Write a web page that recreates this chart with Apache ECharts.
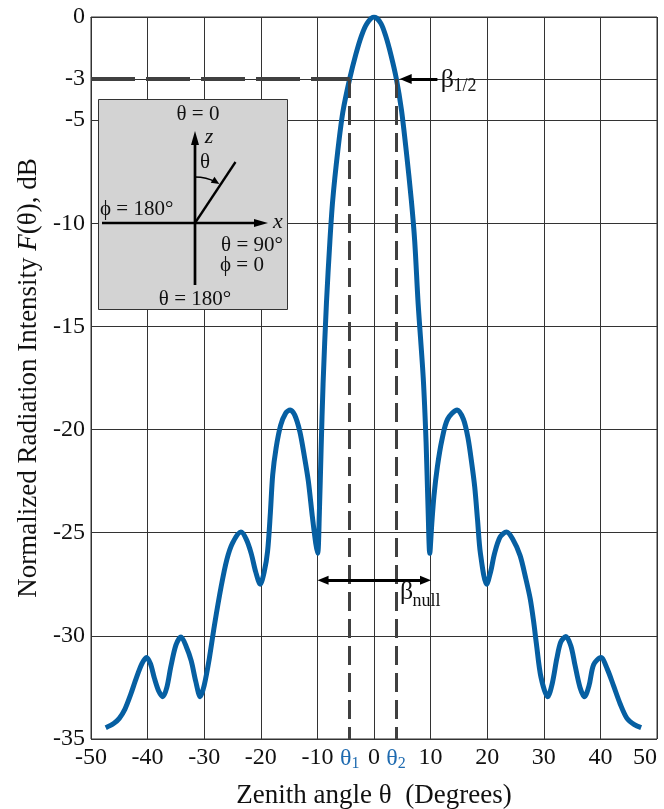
<!DOCTYPE html>
<html>
<head>
<meta charset="utf-8">
<script src="https://cdn.jsdelivr.net/npm/echarts@6/dist/echarts.min.js"></script>
<style>
html, body { margin: 0; padding: 0; background: #fff; }
#chart { width: 664px; height: 809px; }
</style>
</head>
<body>
<div id="chart"></div>
<script>
// zenith angle (deg) and normalized radiation intensity (dB)
const thetaDeg = [
  -47.4, -46.0, -45.0, -44.0, -43.0, -42.0, -41.0, -40.2, -39.5, -38.8,
  -38.0, -37.3, -36.6, -35.9, -35.0, -34.1, -33.2, -32.3, -31.5, -30.7,
  -30.0, -29.1, -28.2, -27.0, -26.0, -25.0, -23.5, -22.6, -21.7, -20.9,
  -20.1, -19.4, -18.8, -18.3, -17.9, -17.3, -16.5, -15.6, -14.8, -14.0,
  -13.1, -12.3, -11.6, -10.9, -10.3, -9.95, -9.65, -9.35, -9.0, -8.4,
  -7.8, -7.3, -6.4, -5.5, -4.3, -3.2, -2.2, -1.2, 0,
  1.2, 2.1, 3.0, 3.95, 4.85, 5.7, 6.6, 7.2, 7.8, 8.7,
  9.2, 9.55, 9.85, 10.2, 10.6, 11.2, 12.0, 13.0, 14.7, 15.8,
  16.6, 17.3, 17.8, 18.3, 18.8, 19.9, 20.6, 21.3, 22.3, 23.4,
  24.5, 25.8, 26.8, 27.6, 28.2, 28.7, 29.5, 30.7, 31.5, 32.3,
  33.0, 33.9, 34.8, 35.5, 36.4, 37.2, 38.0, 38.8, 40.1, 41.2,
  42.3, 43.5, 44.7, 46.0, 47.2
];
const intensityDb = [
  -34.45, -34.25, -34.0, -33.55, -32.85, -32.05, -31.35, -31.05, -31.35, -32.05,
  -32.7, -32.95, -32.5, -31.5, -30.45, -30.05, -30.5, -31.2, -32.2, -32.95,
  -32.4, -31.1, -29.5, -27.6, -26.3, -25.5, -24.97, -25.3, -26.0, -26.9,
  -27.5, -26.9, -25.9, -24.0, -22.2, -20.9, -19.8, -19.2, -19.05, -19.3,
  -20.1, -21.3, -22.5, -24.2, -25.5, -26.0, -24.0, -21.0, -17.8, -13.85,
  -10.9, -8.9, -6.5, -4.6, -3.0, -1.8, -0.9, -0.3, 0,
  -0.3, -0.95, -1.85, -3.0, -4.5, -6.5, -8.9, -10.9, -13.9, -17.5,
  -20.6, -23.8, -26.0, -24.6, -23.2, -21.8, -20.5, -19.5, -19.05, -19.5,
  -20.4, -21.7, -22.8, -24.4, -26.0, -27.5, -26.9, -26.0, -25.2, -24.97,
  -25.3, -26.1, -27.2, -28.2, -29.3, -30.4, -32.0, -32.95, -32.3, -31.1,
  -30.3, -30.03, -30.5, -31.4, -32.5, -32.95, -32.4, -31.4, -31.05, -31.6,
  -32.4, -33.3, -34.0, -34.3, -34.45
];

const xTicks = [-50, -40, -30, -20, -10, 0, 10, 20, 30, 40, 50];
const yTicks = [0, -3, -5, -10, -15, -20, -25, -30, -35];

// half power angles and null positions
const theta1 = -4.3;
const theta2 = 3.9;
const halfPowerDb = -3;
const nullAngles = [-9.9, 10.0];
const nullArrowDb = -27.3;

const serif = "'Liberation Serif', 'DejaVu Serif', serif";
const curveBlue = '#065fa2';
const labelBlue = '#1f6bb0';
const dashGray = '#404040';

const chart = echarts.init(document.getElementById('chart'));

const option = {
  animation: false,
  grid: {
    left: 91, right: 7, top: 17, bottom: 70,
    outerBoundsMode: 'none',
    show: true, borderColor: '#333', borderWidth: 1
  },
  xAxis: {
    type: 'value',
    min: -50, max: 50, interval: 10,
    axisLine: { show: true, lineStyle: { color: '#333', width: 1 } },
    axisTick: { show: false },
    splitLine: { show: true, lineStyle: { color: '#333', width: 1 } },
    axisLabel: {
      // theta1/theta2 first so that 50 stays the last (max) label
      customValues: [theta1, theta2].concat(xTicks),
      margin: 7,
      alignMaxLabel: 'right',
      fontFamily: serif, fontSize: 24, color: '#111',
      formatter: function (v) {
        if (Math.abs(v - theta1) < 0.01) return '{t|θ}{s|1}';
        if (Math.abs(v - theta2) < 0.01) return '{t|θ}{s|2}';
        return String(v);
      },
      rich: {
        t: { fontFamily: serif, fontSize: 24, lineHeight: 26, color: labelBlue },
        s: { fontFamily: serif, fontSize: 16, lineHeight: 16, color: labelBlue, verticalAlign: 'bottom' }
      }
    },
    name: 'Zenith angle θ  (Degrees)',
    nameLocation: 'middle',
    nameGap: 43,
    nameTextStyle: { fontFamily: serif, fontSize: 27, color: '#111' }
  },
  yAxis: {
    type: 'value',
    min: -35, max: 0, interval: 5,
    axisLine: { show: true, lineStyle: { color: '#333', width: 1 } },
    axisTick: { show: true, customValues: yTicks, length: 5, lineStyle: { color: '#333' } },
    splitLine: { show: true, lineStyle: { color: '#333', width: 1 } },
    axisLabel: {
      customValues: yTicks,
      margin: 6,
      fontFamily: serif, fontSize: 24, color: '#111'
    },
    name: 'Normalized Radiation Intensity {i|F}(θ), dB',
    nameLocation: 'middle',
    nameRotate: 90,
    nameGap: 38,
    nameTextStyle: {
      fontFamily: serif, fontSize: 27, color: '#111',
      rich: {
        i: { fontFamily: serif, fontSize: 27, fontStyle: 'italic', color: '#111' }
      }
    }
  },
  series: [{
    type: 'line',
    data: thetaDeg.map((t, i) => [t, intensityDb[i]]),
    showSymbol: false,
    smooth: 0.3,
    lineStyle: { color: curveBlue, width: 5 },
    z: 3,
    markLine: {
      silent: true,
      symbol: 'none',
      label: { show: false },
      data: [
        // -3 dB level
        [
          { coord: [-50, halfPowerDb], lineStyle: { color: dashGray, width: 4, type: [44, 11] } },
          { coord: [theta1, halfPowerDb] }
        ],
        // theta1 / theta2 drop lines
        [
          { coord: [theta1, halfPowerDb], lineStyle: { color: dashGray, width: 3, type: [19, 8] } },
          { coord: [theta1, -35] }
        ],
        [
          { coord: [theta2, halfPowerDb], lineStyle: { color: dashGray, width: 3, type: [19, 8] } },
          { coord: [theta2, -35] }
        ],
        // beta 1/2 pointer
        [
          { coord: [11.2, halfPowerDb], symbol: 'none', lineStyle: { color: '#000', width: 3, type: 'solid' } },
          { coord: [5.6, halfPowerDb], symbol: 'triangle', symbolSize: [10, 12] }
        ],
        // beta null span
        [
          { coord: [nullAngles[0] + 0.9, nullArrowDb], symbol: 'triangle', symbolSize: [9, 11], lineStyle: { color: '#000', width: 3, type: 'solid' } },
          { coord: [nullAngles[1] - 0.9, nullArrowDb], symbol: 'triangle', symbolSize: [9, 11] }
        ]
      ]
    }
  }]
};

chart.setOption(option);

// annotations that hang off the data coordinates
function px(x, y) {
  return chart.convertToPixel({ gridIndex: 0 }, [x, y]);
}
const halfTail = px(11.2, halfPowerDb);
const nullEnd = px(nullAngles[1], nullArrowDb);
const txt = (x, y, text, size, extra) => ({
  type: 'text', x: x, y: y, z: 12,
  style: Object.assign({
    text: text, font: size + 'px ' + serif, fill: '#111',
    textAlign: 'center', textVerticalAlign: 'middle'
  }, extra || {})
});

// inset sketch of the coordinate system
const ox = 195, oy = 223;
const arcR = 46;
const arcEnd = -58 * Math.PI / 180;
const tipX = ox + arcR * Math.cos(arcEnd), tipY = oy + arcR * Math.sin(arcEnd);
const tx = -Math.sin(arcEnd), ty = Math.cos(arcEnd);
const nx = -ty, ny = tx;
const ink = { fill: '#000' };

chart.setOption({
  graphic: [
    // beta labels
    txt(halfTail[0] + 10, halfTail[1] + 1, 'β', 26),
    txt(halfTail[0] + 16, halfTail[1] + 7, '1/2', 18, { textAlign: 'left' }),
    txt(nullEnd[0] - 24, nullEnd[1] + 12, 'β', 26),
    txt(nullEnd[0] - 18, nullEnd[1] + 21, 'null', 18, { textAlign: 'left' }),
    // inset box
    {
      type: 'rect', z: 10,
      shape: { x: 98.5, y: 99.5, width: 189, height: 210 },
      style: { fill: '#d3d3d3', stroke: '#333', lineWidth: 1 }
    },
    { type: 'line', z: 11, shape: { x1: ox, y1: 285, x2: ox, y2: 140 }, style: { stroke: '#000', lineWidth: 2.7 } },
    { type: 'polygon', z: 11, shape: { points: [[ox, 131], [ox - 4, 145], [ox + 4, 145]] }, style: ink },
    { type: 'line', z: 11, shape: { x1: 102, y1: oy, x2: 258, y2: oy }, style: { stroke: '#000', lineWidth: 2.7 } },
    { type: 'polygon', z: 11, shape: { points: [[268, oy], [254, oy - 4], [254, oy + 4]] }, style: ink },
    { type: 'line', z: 11, shape: { x1: ox, y1: oy, x2: 235.5, y2: 162 }, style: { stroke: '#000', lineWidth: 2.3 } },
    {
      type: 'arc', z: 11,
      shape: { cx: ox, cy: oy, r: arcR, startAngle: -Math.PI / 2, endAngle: arcEnd - 0.08, clockwise: true },
      style: { stroke: '#000', fill: null, lineWidth: 1.6 }
    },
    {
      type: 'polygon', z: 11,
      shape: { points: [
        [tipX, tipY],
        [tipX - tx * 8 + nx * 3.5, tipY - ty * 8 + ny * 3.5],
        [tipX - tx * 8 - nx * 3.5, tipY - ty * 8 - ny * 3.5]
      ] },
      style: ink
    },
    txt(198, 114, 'θ = 0', 21),
    txt(209, 137, 'z', 22, { font: 'italic 22px ' + serif }),
    txt(205, 162, 'θ', 21),
    txt(100, 209, 'ϕ = 180°', 21, { textAlign: 'left' }),
    txt(278, 222, 'x', 22, { font: 'italic 22px ' + serif }),
    txt(252, 245, 'θ = 90°', 21),
    txt(242, 265, 'ϕ = 0', 21),
    txt(195, 299, 'θ = 180°', 21)
  ]
});
</script>
</body>
</html>
